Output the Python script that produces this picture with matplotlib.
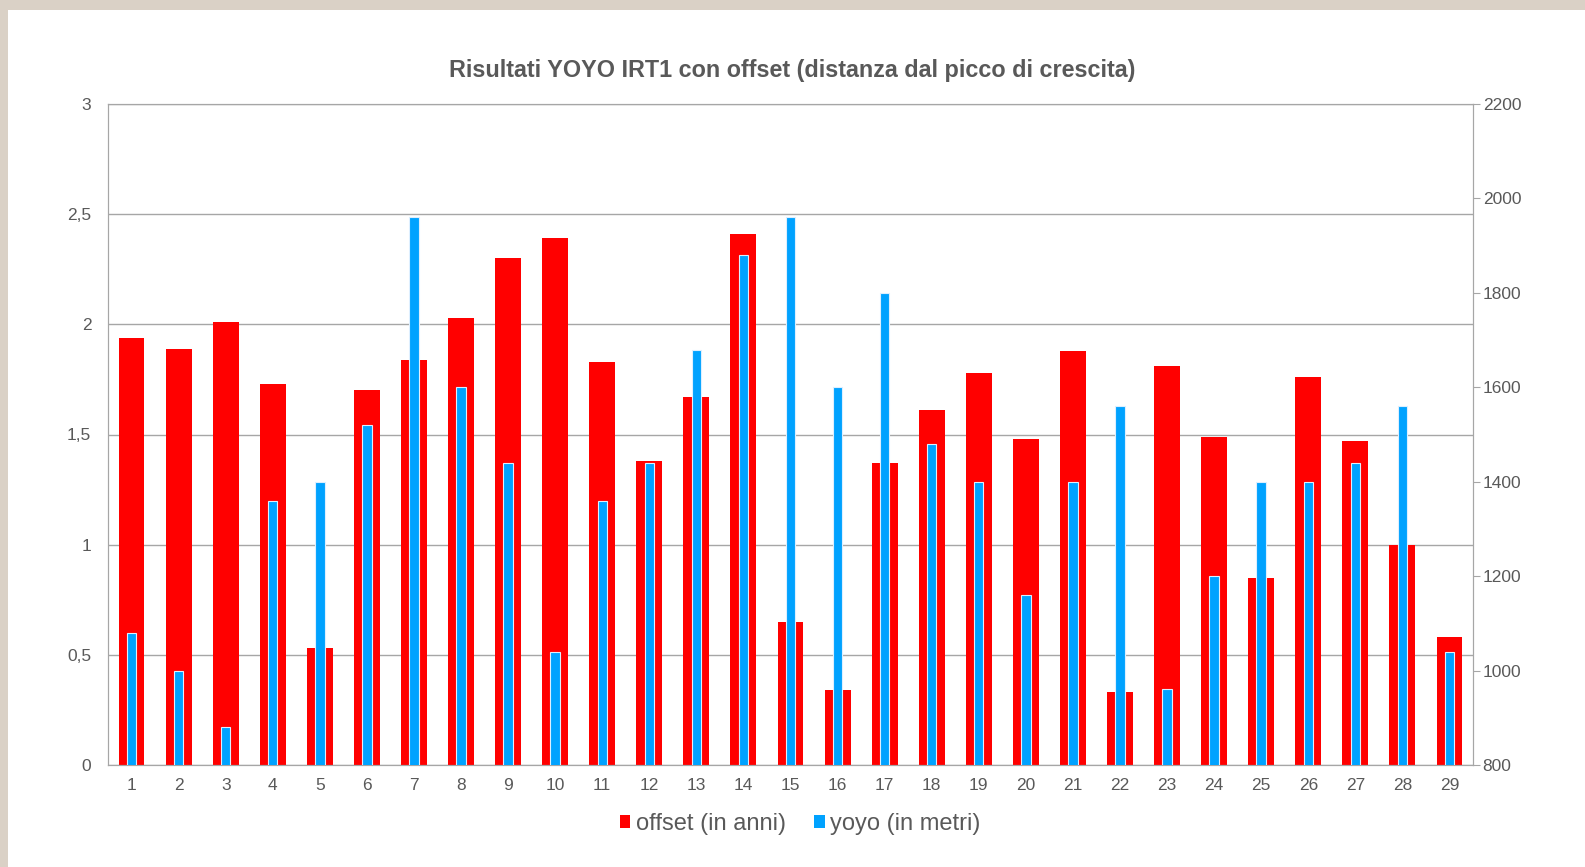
import matplotlib.pyplot as plt
import numpy as np
from matplotlib.patches import Patch, Rectangle
from matplotlib.ticker import FuncFormatter

# data
categories = [str(i) for i in range(1, 30)]
offset = [1.94, 1.89, 2.01, 1.73, 0.53, 1.70, 1.84, 2.03, 2.30, 2.39,
          1.83, 1.38, 1.67, 2.41, 0.65, 0.34, 1.37, 1.61, 1.78, 1.48,
          1.88, 0.33, 1.81, 1.49, 0.85, 1.76, 1.47, 1.00, 0.58]
yoyo = [1080, 1000, 880, 1360, 1400, 1520, 1960, 1600, 1440, 1040,
        1360, 1440, 1680, 1880, 1960, 1600, 1800, 1480, 1400, 1160,
        1400, 1560, 960, 1200, 1400, 1400, 1440, 1560, 1040]

plt.rcParams['font.family'] = ['Liberation Sans', 'DejaVu Sans']
grey_txt = '#595959'
grey_line = '#A6A6A6'
red = '#FF0000'
blue = '#00A2FF'

fig = plt.figure(figsize=(15.85, 8.67), dpi=100)
fig.patch.set_facecolor('#DAD1C6')
fig.patches.append(Rectangle((8 / 1585, 0), 1, 1 - 10 / 867, transform=fig.transFigure,
                             facecolor='white', edgecolor='none', zorder=-5))

ax = fig.add_axes([108 / 1585, 1 - 765 / 867, (1473 - 108) / 1585, (765 - 104) / 867])
ax.set_facecolor('white')
x = np.arange(len(categories))
ax.bar(x, offset, width=0.55, color=red, zorder=2)
ax.set_ylim(0, 3)
ax.set_yticks(np.arange(0, 3.01, 0.5))
ax.yaxis.set_major_formatter(FuncFormatter(lambda v, p: ('%g' % v).replace('.', ',')))
ax.set_xlim(-0.5, len(categories) - 0.5)
ax.set_xticks(x)
ax.set_xticklabels(categories)
ax.grid(axis='y', color=grey_line, linewidth=1, zorder=0)
ax.set_axisbelow(True)
ax.tick_params(axis='y', length=0, pad=12, labelsize=12.5, labelcolor=grey_txt)
ax.tick_params(axis='x', length=0, pad=9, labelsize=12.5, labelcolor=grey_txt)
for s in ax.spines.values():
    s.set_color(grey_line)

ax2 = ax.twinx()
ax2.bar(x, yoyo, width=0.2, color=blue, edgecolor='#DDEFFF', linewidth=0.8, zorder=3)
ax2.set_ylim(800, 2200)
ax2.set_yticks(np.arange(800, 2201, 200))
ax2.tick_params(axis='y', length=5, color=grey_line, pad=2, labelsize=12.5, labelcolor=grey_txt)
for s in ax2.spines.values():
    s.set_color(grey_line)

fig.text(0.5, 1 - 70 / 867, 'Risultati YOYO IRT1 con offset (distanza dal picco di crescita)',
         ha='center', va='center', fontsize=16.8, fontweight='bold', color=grey_txt)

handles = [Patch(facecolor=red, label='offset (in anni)'),
           Patch(facecolor=blue, label='yoyo (in metri)')]
fig.legend(handles=handles, loc='center', bbox_to_anchor=(800 / 1585, 1 - 824 / 867), ncol=2,
           frameon=False, fontsize=17, handlelength=0.45, handleheight=0.45,
           handletextpad=0.22, columnspacing=1.2, labelcolor=grey_txt)

fig.savefig('out.png', dpi=100, facecolor=fig.get_facecolor())
